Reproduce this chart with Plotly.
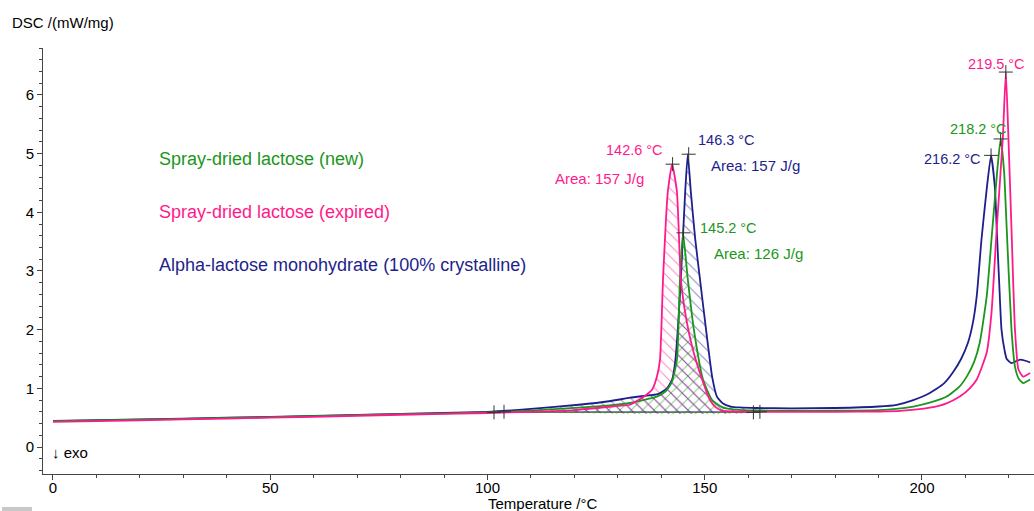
import plotly.graph_objects as go
import numpy as np

# ---------------- data ----------------
# Alpha-lactose monohydrate (100% crystalline) - navy
T_alpha = [0, 20, 40, 60, 80, 100, 110, 121, 128, 132.8, 136, 139.2, 141.3, 142.5, 143.2,
           143.8, 144.5, 145.5, 146.1, 146.8, 147.8, 148.9, 150.3, 151.7, 152.8, 154.2,
           156, 158, 162, 170, 180, 190, 194.2, 198, 201.8, 205, 207.1, 209, 210.6,
           211.8, 212.6, 213.7, 214.9, 215.9, 216.8, 217.2, 217.8, 218.3, 219.0, 219.5,
           220.6, 221.6, 222.6, 223.8, 224.9]
Y_alpha = [0.445, 0.47, 0.50, 0.53, 0.565, 0.60, 0.65, 0.72, 0.78, 0.84, 0.87, 0.90, 1.00, 1.15, 1.45,
           2.00, 2.86, 4.35, 4.99, 4.35, 3.55, 2.86, 2.00, 1.20, 0.86, 0.74,
           0.69, 0.675, 0.665, 0.66, 0.665, 0.69, 0.72, 0.80, 0.92, 1.08, 1.27, 1.50, 1.78,
           2.15, 2.57, 3.54, 4.40, 4.97, 4.40, 3.72, 2.75, 2.00, 1.65, 1.50,
           1.43, 1.46, 1.49, 1.47, 1.44]

# Spray-dried lactose (new) - green
T_new = [0, 20, 40, 60, 80, 100, 110, 121, 128, 132.8, 137, 139, 141, 142.4, 143.6,
         144.3, 145.0, 146.1, 147.5, 149.6, 151.7, 154, 156.5, 160, 170, 180, 190, 194,
         198, 202, 205.7, 208.5, 210.3, 212, 213.3, 214.9, 216.0, 217.3, 218.1, 218.9,
         219.5, 220.6, 221.4, 222.3, 223.3, 224.9]
Y_new = [0.44, 0.465, 0.495, 0.525, 0.56, 0.59, 0.62, 0.67, 0.71, 0.75, 0.82, 0.86, 0.95, 1.10, 1.49,
         2.86, 3.65, 2.86, 2.00, 1.15, 0.80, 0.68, 0.64, 0.625, 0.62, 0.62, 0.63, 0.65,
         0.69, 0.76, 0.86, 1.02, 1.20, 1.45, 1.78, 2.57, 3.54, 4.69, 5.25, 4.69,
         3.72, 2.00, 1.37, 1.16, 1.09, 1.15]

# Spray-dried lactose (expired) - pink
T_exp = [0, 20, 40, 60, 80, 100, 110, 120, 130, 132.8, 136.2, 137.9, 139, 139.7, 140.4,
         141.5, 142.5, 143.6, 144.5, 145.7, 147.1, 149.4, 151.2, 152.5, 154, 160, 170,
         180, 190, 195, 201.8, 205.5, 208.7, 211, 212.6, 214.9, 216.0, 217.2, 218.6,
         219.3, 219.9, 220.6, 221.4, 222.2, 223.3, 224.9]
Y_exp = [0.43, 0.455, 0.485, 0.515, 0.55, 0.58, 0.60, 0.63, 0.70, 0.72, 0.87, 0.98, 1.20, 1.49, 2.86,
         4.35, 4.82, 4.35, 2.86, 2.20, 1.71, 1.15, 0.80, 0.68, 0.62, 0.60, 0.60,
         0.60, 0.605, 0.615, 0.67, 0.74, 0.86, 1.00, 1.15, 1.61, 2.29, 3.72, 5.26,
         6.39, 5.26, 3.72, 2.00, 1.32, 1.20, 1.26]

# integration limits (start, end) and baseline value for the hatched peak areas
area_alpha = (103.8, 162.7, 0.60)
area_new = (101.5, 161.2, 0.59)
area_exp = (101.5, 161.2, 0.59)

# peak markers
peak_T = [142.6, 146.3, 145.1, 219.3, 218.1, 215.9]
peak_Y = [4.82, 4.99, 3.65, 6.39, 5.25, 4.97]

peak_labels = ["142.6 °C", "146.3 °C", "145.2 °C", "219.5 °C", "218.2 °C", "216.2 °C"]
area_labels = ["Area: 157 J/g", "Area: 157 J/g", "Area: 126 J/g"]
series_names = ["Spray-dried lactose (new)", "Spray-dried lactose (expired)",
                "Alpha-lactose monohydrate (100% crystalline)"]

C_NEW = "#1b961b"
C_EXP = "#ff1a8c"
C_ALPHA = "#1e1e8c"
FONT = "Liberation Sans, Arial, sans-serif"

fig = go.Figure()


def area_polygon(T, Y, lim):
    t0, t1, base = lim
    T = np.array(T, float)
    Y = np.array(Y, float)
    m = (T > t0) & (T < t1)
    xs = [t0] + list(T[m]) + [t1, t1, t0]
    ys = [float(np.interp(t0, T, Y))] + list(Y[m]) + [float(np.interp(t1, T, Y)), base, base]
    return xs, ys


for T, Y, lim, col, shape in [(T_exp, Y_exp, area_exp, C_EXP, "\\"),
                              (T_alpha, Y_alpha, area_alpha, C_ALPHA, "\\"),
                              (T_new, Y_new, area_new, C_NEW, "/")]:
    xs, ys = area_polygon(T, Y, lim)
    fig.add_trace(go.Scatter(x=xs, y=ys, mode="lines", fill="toself",
                             line=dict(width=0, color=col, shape="spline", smoothing=0.5),
                             fillcolor=col,
                             fillpattern=dict(shape=shape, fgcolor=col, bgcolor="rgba(255,255,255,0)",
                                              fillmode="replace",
                                              size=8, solidity=0.12, fgopacity=0.55),
                             hoverinfo="skip", showlegend=False))
    # baseline of the integration
    fig.add_trace(go.Scatter(x=[lim[0], lim[1]], y=[lim[2], lim[2]], mode="lines",
                             line=dict(width=1, color=col), opacity=0.7,
                             showlegend=False, hoverinfo="skip"))

for T, Y, col in [(T_alpha, Y_alpha, C_ALPHA), (T_new, Y_new, C_NEW), (T_exp, Y_exp, C_EXP)]:
    fig.add_trace(go.Scatter(x=T, y=Y, mode="lines",
                             line=dict(color=col, width=1.8, shape="spline", smoothing=0.5),
                             showlegend=False))

# peak and limit markers
lim_T = [area_new[0], area_alpha[0], area_new[1], area_alpha[1]]
lim_Y = [area_new[2], area_alpha[2], area_new[2], area_alpha[2]]
fig.add_trace(go.Scatter(x=peak_T + lim_T, y=peak_Y + lim_Y, mode="markers",
                         marker=dict(symbol="cross-thin", size=10,
                                     line=dict(color="#333333", width=1)),
                         showlegend=False))

ann = []
def txt(x, y, s, col, size=14.5, xanchor="left", xref="x", yref="y"):
    ann.append(dict(x=x, y=y, xref=xref, yref=yref, text=s, showarrow=False,
                    xanchor=xanchor, yanchor="middle",
                    font=dict(family=FONT, size=size, color=col)))

# peak temperatures
txt(140.85, 5.06, peak_labels[0], C_EXP, xanchor="right")
txt(148.0, 5.24, peak_labels[1], C_ALPHA)
txt(148.4, 3.74, peak_labels[2], C_NEW)
txt(210.1, 6.52, peak_labels[3], C_EXP)
txt(206.0, 5.42, peak_labels[4], C_NEW)
txt(200.0, 4.91, peak_labels[5], C_ALPHA)
# areas
txt(136.4, 4.57, area_labels[0], C_EXP, size=15, xanchor="right")
txt(151.0, 4.80, area_labels[1], C_ALPHA, size=15)
txt(151.7, 3.30, area_labels[2], C_NEW, size=15)
# series labels
txt(23.9, 4.91, series_names[0], C_NEW, size=18)
txt(23.9, 4.00, series_names[1], C_EXP, size=18)
txt(23.9, 3.10, series_names[2], C_ALPHA, size=18)
# axis titles and exo
txt(-0.6, -0.10, "↓ exo", "#000000", size=15)
txt(-0.0333, 1.0594, "DSC /(mW/mg)", "#000000", size=15, xref="paper", yref="paper")
ann.append(dict(x=112.8, y=-0.0685, xref="x", yref="paper", text="Temperature /°C",
                showarrow=False, xanchor="center", yanchor="middle",
                font=dict(family=FONT, size=15, color="#000000")))

fig.update_layout(
    width=1034, height=511,
    margin=dict(l=43, r=0, t=48, b=37),
    paper_bgcolor="white", plot_bgcolor="white",
    annotations=ann,
    font=dict(family=FONT, size=15, color="#000000"),
    shapes=[dict(type="rect", xref="paper", yref="paper", x0=-0.0414, x1=-0.0111,
                 y0=-0.0869, y1=-0.0775, fillcolor="#c8c8c8", line=dict(width=0))],
    xaxis=dict(range=[-2.3, 225.78], showgrid=False, zeroline=False, showline=True,
               linecolor="#444", linewidth=1, ticks="outside", ticklen=5, tickcolor="#444",
               tick0=0, dtick=50, tickfont=dict(size=15, family=FONT, color="#000"),
               ticklabelstandoff=-5,
               minor=dict(dtick=10, ticks="outside", ticklen=3, tickcolor="#444")),
    yaxis=dict(range=[-0.46, 6.80], showgrid=False, zeroline=False, showline=True,
               linecolor="#444", linewidth=1, ticks="outside", ticklen=5, tickcolor="#444",
               tick0=0, dtick=1, tickfont=dict(size=15, family=FONT, color="#000"),
               minor=dict(dtick=0.2, ticks="outside", ticklen=3, tickcolor="#444")),
)

fig.write_html("out.html")
